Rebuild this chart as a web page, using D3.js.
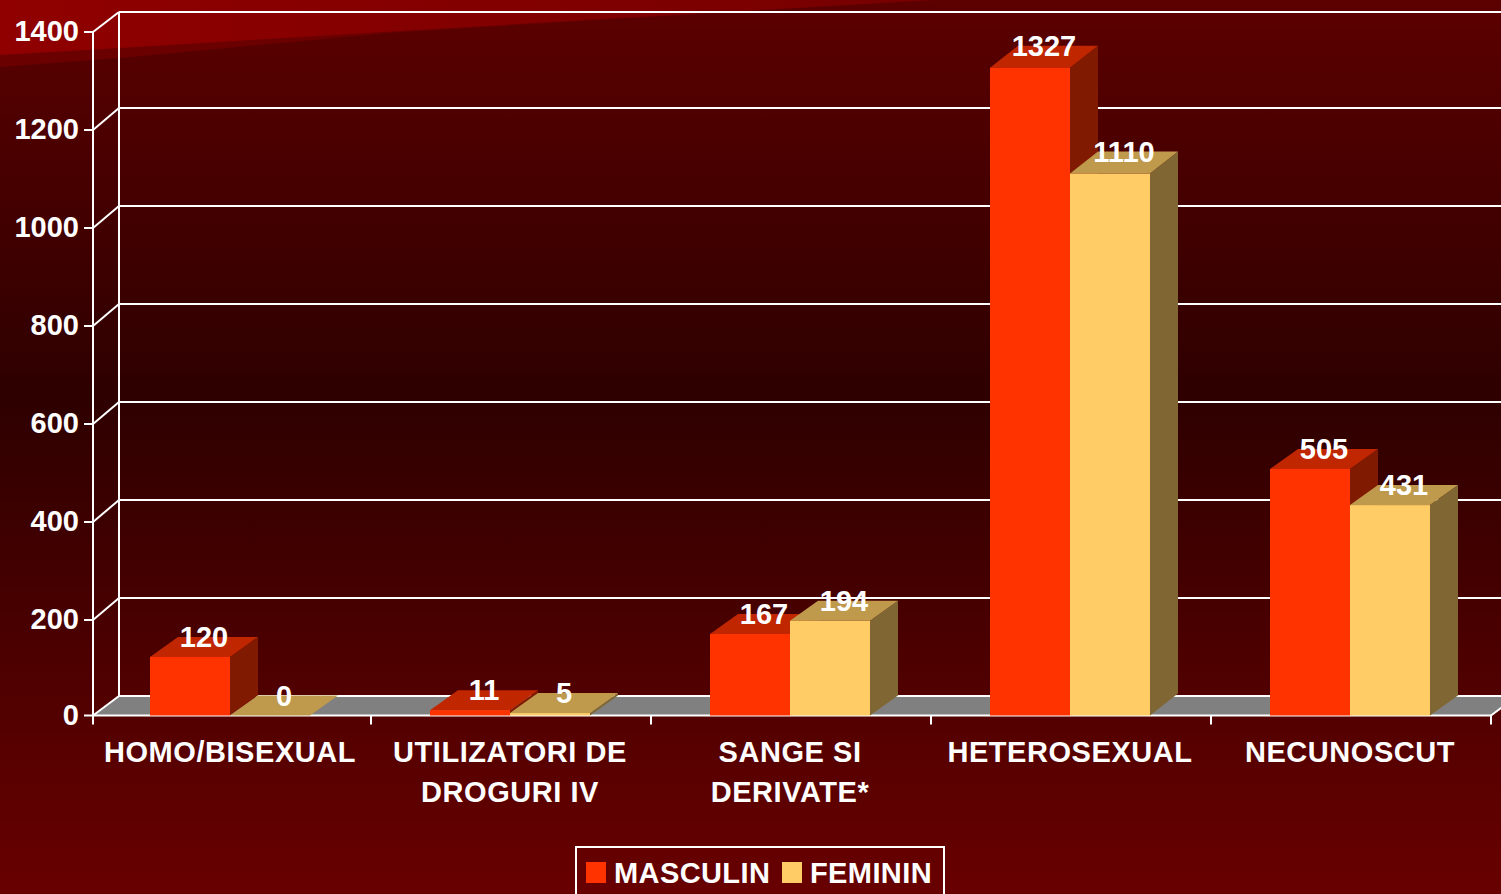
<!DOCTYPE html>
<html>
<head>
<meta charset="utf-8">
<title>Transmitere HIV</title>
<script src="https://cdnjs.cloudflare.com/ajax/libs/d3/7.8.5/d3.min.js"></script>
<style>
html, body { margin: 0; padding: 0; background: #600000; overflow: hidden; }
svg { display: block; }
text { font-family: "Liberation Sans", Arial, sans-serif; font-weight: bold; fill: #fff; }
</style>
</head>
<body>
<div id="chart"></div>
<script>
const categories = [["HOMO/BISEXUAL"], ["UTILIZATORI DE", "DROGURI IV"], ["SANGE SI", "DERIVATE*"], ["HETEROSEXUAL"], ["NECUNOSCUT"]];
const masculin = [120, 11, 167, 1327, 505];
const feminin = [0, 5, 194, 1110, 431];
const yTicks = [0, 200, 400, 600, 800, 1000, 1200, 1400];

const width = 1501, height = 894;
const wallDepth = 26, barDepth = 28;
const white = "#fff";

const series = [
    { name: "MASCULIN", values: masculin, front: "#ff3300", top: "#c02600", side: "#801a00" },
    { name: "FEMININ", values: feminin, front: "#ffcc66", top: "#bf9a4d", side: "#806633" }
];

const svg = d3.select("#chart").append("svg").attr("width", width).attr("height", height);

const defs = svg.append("defs");
const bg = defs.append("linearGradient")
    .attr("id", "bg").attr("x1", 0).attr("y1", 0).attr("x2", 0).attr("y2", 1);
bg.append("stop").attr("offset", "0%").attr("stop-color", "#5c0000");
bg.append("stop").attr("offset", "44%").attr("stop-color", "#2e0000");
bg.append("stop").attr("offset", "100%").attr("stop-color", "#680000");

const swoosh = defs.append("linearGradient")
    .attr("id", "swoosh").attr("x1", 0).attr("y1", 0).attr("x2", 1).attr("y2", 0);
swoosh.append("stop").attr("offset", "0%").attr("stop-color", "#900000");
swoosh.append("stop").attr("offset", "100%").attr("stop-color", "#760000");

svg.append("rect").attr("width", width).attr("height", height).attr("fill", "url(#bg)");
svg.append("path").attr("d", "M0,67 L120,58 L400,32 L600,20 L933,0 L0,0 Z").attr("fill", "#6a0000");
svg.append("path").attr("d", "M0,55 L120,48 L400,31 L600,19 L933,0 L0,0 Z").attr("fill", "url(#swoosh)");

const x = d3.scaleBand().domain(d3.range(categories.length)).range([91, 1491]);
const barX = d3.scaleBand().domain([0, 1]).range([59, 219]);

// bar heights
const y = d3.scaleLinear().domain([0, 1400]).range([715.5, 32]);
// top face is a little deeper on the tall bars
const topDepth = d3.scaleLinear().domain([505, 1110]).range([20, 22]).clamp(true);
// ticks are not quite even in the original, ends are squeezed
const tickFront = d3.scaleLinear().domain([0, 200, 1200, 1400]).range([715.5, 620, 130, 32]);
const tickBack = d3.scaleLinear().domain([0, 200, 1200, 1400]).range([696, 598, 108, 12]);

// floor
svg.append("polygon")
    .attr("points", [[93, tickFront(0)], [93 + wallDepth, tickBack(0)], [1491 + wallDepth, tickBack(0)], [1491, tickFront(0)]].join(" "))
    .attr("fill", "#808080");

// back wall grid and left wall
const grid = svg.append("g").attr("stroke", white).attr("stroke-width", 2).attr("fill", "none");
yTicks.forEach(function(t) {
    grid.append("line").attr("x1", 93 + wallDepth).attr("x2", width).attr("y1", tickBack(t)).attr("y2", tickBack(t));
    grid.append("line").attr("x1", 93).attr("x2", 93 + wallDepth).attr("y1", tickFront(t)).attr("y2", tickBack(t));
    grid.append("line").attr("x1", 84).attr("x2", 93).attr("y1", tickFront(t)).attr("y2", tickFront(t));
});
grid.append("line").attr("x1", 93).attr("x2", 93).attr("y1", tickFront(1400)).attr("y2", tickFront(0) + 9);
grid.append("line").attr("x1", 93 + wallDepth).attr("x2", 93 + wallDepth).attr("y1", tickBack(1400)).attr("y2", tickBack(0));
grid.append("line").attr("x1", 93).attr("x2", 1491).attr("y1", tickFront(0)).attr("y2", tickFront(0));
grid.append("line").attr("x1", 1491).attr("x2", 1491 + wallDepth).attr("y1", tickFront(0)).attr("y2", tickBack(0));
d3.range(categories.length).forEach(function(i) {
    const tx = x(i) + x.bandwidth();
    grid.append("line").attr("x1", tx).attr("x2", tx).attr("y1", tickFront(0)).attr("y2", tickFront(0) + 9);
});

// bars
const bars = svg.append("g");
categories.forEach(function(c, i) {
    series.forEach(function(s, k) {
        const v = s.values[i];
        const x0 = x(i) + barX(k), x1 = x0 + barX.bandwidth();
        const y0 = y(0), y1 = y(v), d = topDepth(v);
        const g = bars.append("g");
        g.append("polygon").attr("fill", s.side)
            .attr("points", [[x1, y0], [x1 + barDepth, y0 - d], [x1 + barDepth, y1 - d], [x1, y1]].join(" "));
        g.append("polygon").attr("fill", s.top)
            .attr("points", [[x0, y1], [x0 + barDepth, y1 - d], [x1 + barDepth, y1 - d], [x1, y1]].join(" "));
        g.append("rect").attr("fill", s.front)
            .attr("x", x0).attr("y", y1).attr("width", x1 - x0).attr("height", y0 - y1);
    });
});

// value labels
categories.forEach(function(c, i) {
    series.forEach(function(s, k) {
        const v = s.values[i];
        svg.append("text")
            .attr("x", x(i) + barX(k) + barX.bandwidth() / 2 + barDepth / 2)
            .attr("y", y(v) - topDepth(v) + 10)
            .attr("text-anchor", "middle")
            .style("font-size", "29px")
            .text(v);
    });
});

// y tick labels
yTicks.forEach(function(t) {
    svg.append("text")
        .attr("x", 79).attr("y", tickFront(t) + 9)
        .attr("text-anchor", "end")
        .style("font-size", "29px")
        .text(t);
});

// category labels
categories.forEach(function(lines, i) {
    lines.forEach(function(line, j) {
        svg.append("text")
            .attr("x", x(i) + x.bandwidth() / 2 - 1)
            .attr("y", 762 + j * 40)
            .attr("text-anchor", "middle")
            .style("font-size", "29px")
            .style("letter-spacing", "0.55px")
            .text(line);
    });
});

// legend
const legend = svg.append("g");
legend.append("rect").attr("x", 576).attr("y", 847).attr("width", 368).attr("height", 60)
    .attr("fill", "none").attr("stroke", white).attr("stroke-width", 2);
const legendX = [586, 782];
series.forEach(function(s, k) {
    legend.append("rect").attr("x", legendX[k]).attr("y", 862).attr("width", 20).attr("height", 21).attr("fill", s.front);
    legend.append("text").attr("x", legendX[k] + 28).attr("y", 883)
        .style("font-size", "29px").style("letter-spacing", "0.4px").text(s.name);
});
</script>
</body>
</html>
